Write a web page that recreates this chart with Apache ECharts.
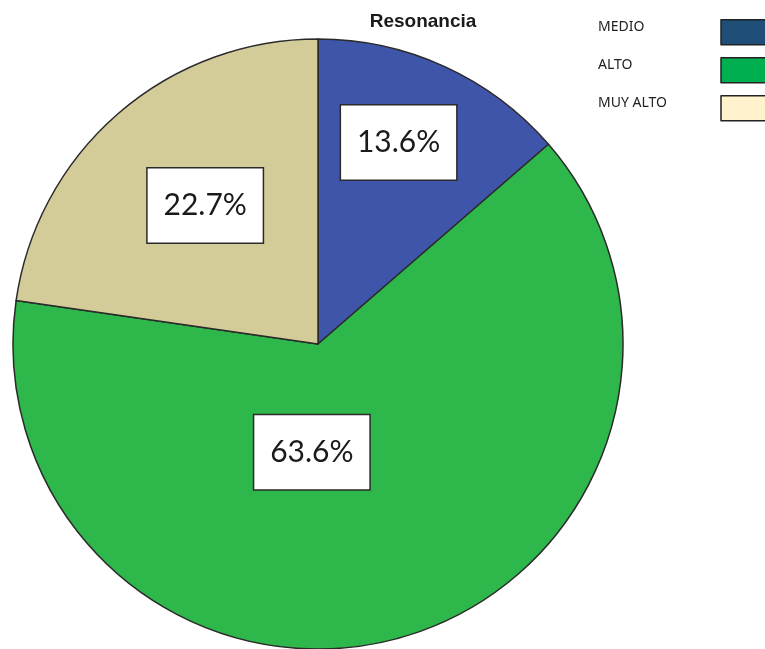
<!DOCTYPE html>
<html>
<head>
<meta charset="utf-8">
<style>
  html, body { margin: 0; padding: 0; background: #ffffff; overflow: hidden; }
  #chart { width: 765px; height: 649px; }
</style>
<script src="https://cdn.jsdelivr.net/npm/echarts@6/dist/echarts.min.js"></script>
</head>
<body>
<div id="chart"></div>
<script>
// Categories and counts (n = 22)
const categories = ['MEDIO', 'ALTO', 'MUY ALTO'];
const counts = [3, 14, 5];
const percentLabels = ['13.6%', '63.6%', '22.7%'];

// Slice fills and legend swatch fills
const sliceColors = ['#3F55A9', '#2EB74A', '#D3CC98'];
const legendColors = ['#1F4E79', '#00B050', '#FFF2CC'];

// Offsets applied to each label from its default inside anchor
const labelNudge = [[16, -60], [-50, -41], [-11, -21]];

const chart = echarts.init(document.getElementById('chart'));

chart.setOption({
  animation: false,
  title: {
    text: 'Resonancia',
    left: 418,
    top: 7,
    textAlign: 'center',
    textStyle: { fontFamily: 'Liberation Sans', fontSize: 19, fontWeight: 'bold', color: '#1a1a1a' }
  },
  legend: {
    orient: 'vertical',
    left: 593,
    top: 14,
    align: 'right',
    icon: 'rect',
    itemWidth: 70,
    itemHeight: 25,
    itemGap: 11.5,
    selectedMode: false,
    formatter: (name) => '{t|' + name + '}',
    textStyle: {
      fontFamily: 'Noto Sans',
      fontSize: 14,
      color: '#222222',
      rich: {
        t: { width: 118, align: 'left', padding: [0, 0, 10, 0], fontFamily: 'Noto Sans', fontSize: 14, color: '#222222' }
      }
    },
    data: categories.map((name, i) => ({
      name: name,
      itemStyle: { color: legendColors[i], borderColor: '#222222', borderWidth: 1.5 }
    }))
  },
  series: [{
    type: 'pie',
    center: [318, 344],
    radius: [0, 305],
    startAngle: 90,
    clockwise: true,
    avoidLabelOverlap: false,
    itemStyle: { borderColor: '#2a2a2a', borderWidth: 1.5 },
    label: {
      show: true,
      position: 'inside',
      formatter: (p) => percentLabels[p.dataIndex],
      fontFamily: 'Lato',
      fontSize: 30,
      lineHeight: 32,
      color: '#1a1a1a',
      backgroundColor: '#ffffff',
      borderColor: '#2a2a2a',
      borderWidth: 1.5,
      width: 115,
      height: 65,
      align: 'center',
      verticalAlign: 'top',
      padding: [9, 0, 0, 0]
    },
    labelLine: { show: false },
    emphasis: { disabled: true },
    labelLayout: (params) => ({
      dx: labelNudge[params.dataIndex][0],
      dy: labelNudge[params.dataIndex][1]
    }),
    data: categories.map((name, i) => ({
      name: name,
      value: counts[i],
      itemStyle: { color: sliceColors[i] }
    }))
  }]
});
</script>
</body>
</html>
